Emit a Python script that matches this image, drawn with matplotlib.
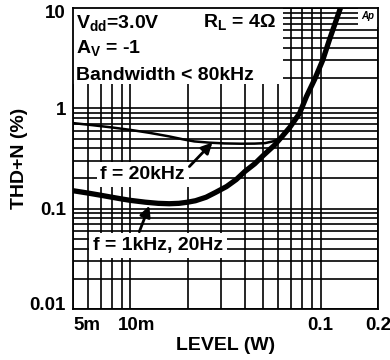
import numpy as np
import matplotlib
matplotlib.use('Agg')
import matplotlib.pyplot as plt
import matplotlib.transforms as mtransforms
from matplotlib.patches import Rectangle

#--------------------------------------------------------------------------------
#Du lieu doc tu hinh (W, %)
#--------------------------------------------------------------------------------
level_20k = [0.005, 0.0063, 0.008, 0.0100, 0.0126, 0.0160, 0.0190, 0.0217,
             0.0260, 0.0312, 0.0380, 0.0449, 0.0510, 0.0560, 0.0608, 0.0650,
             0.0686, 0.0774]
thd_20k = [0.713, 0.68, 0.645, 0.61, 0.57, 0.525, 0.49, 0.468,
           0.455, 0.447, 0.444, 0.445, 0.450, 0.468, 0.50, 0.56,
           0.63, 0.89]

level_1k = [0.005, 0.006, 0.007, 0.008, 0.009, 0.010, 0.012, 0.014,
            0.016, 0.018, 0.020, 0.022, 0.025, 0.028, 0.032, 0.036,
            0.040, 0.045, 0.050, 0.057, 0.063, 0.069, 0.0774, 0.0843,
            0.093, 0.1025, 0.111, 0.127]
thd_1k = [0.151, 0.143, 0.136, 0.130, 0.125, 0.121, 0.116, 0.113,
          0.112, 0.113, 0.116, 0.120, 0.130, 0.145, 0.166, 0.195,
          0.235, 0.28, 0.34, 0.427, 0.53, 0.65, 0.89, 1.32,
          1.95, 3.02, 4.79, 10.0]

xticks = [0.005, 0.01, 0.1, 0.2]
xticklabels = ['5m', '10m', '0.1', '0.2']
xminor = [0.006, 0.007, 0.008, 0.009, 0.02, 0.03, 0.04, 0.05, 0.06, 0.07, 0.08, 0.09]
yticks = [0.01, 0.1, 1, 10]
yticklabels = ['0.01', '0.1', '1', '10']

#--------------------------------------------------------------------------------
#Font
#--------------------------------------------------------------------------------
plt.rcParams['font.family'] = ['Liberation Sans', 'DejaVu Sans']
plt.rcParams['font.weight'] = 'bold'
plt.rcParams['mathtext.fontset'] = 'custom'
plt.rcParams['mathtext.rm'] = 'Liberation Sans:bold'
plt.rcParams['mathtext.it'] = 'Liberation Sans:bold'
plt.rcParams['mathtext.bf'] = 'Liberation Sans:bold'

fig = plt.figure(figsize=(3.9, 3.6), dpi=100)
ax = fig.add_axes([73/390, 1-309/360, 305/390, 301/360])
ax.set_xscale('log')
ax.set_yscale('log')
ax.set_xlim(0.005, 0.2)
ax.set_ylim(0.01, 10)

#Luoi
ax.set_xticks(xticks)
ax.set_xticklabels(xticklabels)
ax.set_xticks(xminor, minor=True)
ax.set_xticklabels([], minor=True)
ax.set_yticks(yticks)
ax.set_yticklabels(yticklabels)
ymin = [m*d for d in [0.01, 0.1, 1] for m in range(2, 10)]
ax.set_yticks(ymin, minor=True)
ax.set_yticklabels([], minor=True)
ax.grid(which='both', color='black', lw=1.2)
ax.set_axisbelow(True)
ax.tick_params(which='both', length=0, labelsize=13.5)
ax.tick_params(axis='x', pad=6)
ax.tick_params(axis='y', pad=5)
for s in ax.spines.values():
    s.set_linewidth(1.3)

#Can chinh nhan truc
labs = ax.get_xticklabels()
labs[0].set_horizontalalignment('left')
off = mtransforms.ScaledTranslation(6/100, 0, fig.dpi_scale_trans)
labs[1].set_transform(labs[1].get_transform() + off)
ylabs = ax.get_yticklabels()
ylabs[0].set_transform(ylabs[0].get_transform() +
                       mtransforms.ScaledTranslation(0, 5/100, fig.dpi_scale_trans))
ylabs[3].set_transform(ylabs[3].get_transform() +
                       mtransforms.ScaledTranslation(0, -4/100, fig.dpi_scale_trans))

#Duong cong
ax.plot(level_20k, thd_20k, color='black', lw=1.8, zorder=3)
ax.plot(level_1k, thd_1k, color='black', lw=3.8, zorder=3, solid_capstyle='butt')

#O trang phia tren
ax.add_patch(Rectangle((0, 0.748), 0.689, 0.252, transform=ax.transAxes,
                       fc='white', ec='none', zorder=1))
ax.add_patch(Rectangle((0.934, 0.937), 0.066, 0.063, transform=ax.transAxes,
                       fc='white', ec='none', zorder=1))

ax.text(0.01, 0.934, r'V$_{\mathrm{dd}}$=3.0V', transform=ax.transAxes, fontsize=14, zorder=4)
ax.text(0.01, 0.850, r'A$_{\mathrm{V}}$ = -1', transform=ax.transAxes, fontsize=14, zorder=4)
ax.text(0.01, 0.761, 'Bandwidth < 80kHz', transform=ax.transAxes, fontsize=14, zorder=4)
ax.text(0.426, 0.937, r'R$_{\mathrm{L}}$ = 4Ω', transform=ax.transAxes, fontsize=14, zorder=4)
ax.text(0.967, 0.972, 'Ap', transform=ax.transAxes, fontsize=7, style='italic',
        ha='center', va='center', zorder=4)

#Nhan va mui ten
box = dict(boxstyle='square,pad=0.2', fc='white', ec='none')
ax.text(0.01163, 0.219, 'f = 20kHz', fontsize=14, ha='center', va='center',
        bbox=box, zorder=4)
ax.text(0.01404, 0.0427, 'f = 1kHz, 20Hz', fontsize=14, ha='center', va='center',
        bbox=box, zorder=4)
arrow = dict(arrowstyle='-|>', color='black', lw=2, mutation_scale=16,
             shrinkA=0, shrinkB=0)
ax.annotate('', xy=(0.0270, 0.457), xytext=(0.02043, 0.263), arrowprops=arrow, zorder=4)
ax.annotate('', xy=(0.01259, 0.107), xytext=(0.01115, 0.0589), arrowprops=arrow, zorder=4)

ax.set_xlabel('LEVEL (W)', fontsize=14, fontweight='bold', labelpad=2)
ax.set_ylabel('THD+N (%)', fontsize=14, fontweight='bold', labelpad=1)

fig.savefig('out.png', dpi=100)
